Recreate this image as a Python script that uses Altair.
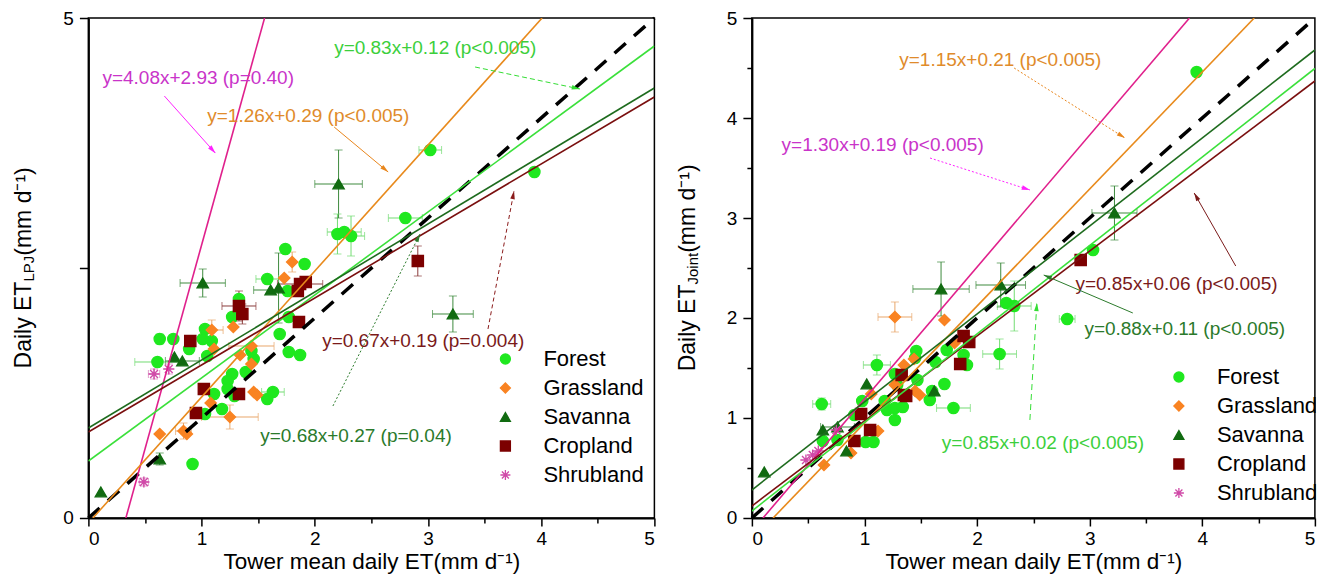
import math
import altair as alt
import pandas as pd

FONT = "Liberation Sans"

CLASSES = ["Forest", "Grassland", "Savanna", "Cropland", "Shrubland"]
MARK_COLORS = ["#1fe81f", "#f98322", "#116b11", "#7c0000", "#d04aa8"]
ERR_COLORS = ["#72dc72", "#e8a66a", "#3d8a3d", "#8a3a3a", "#d67ab8"]
ASTERISK = "M-1,0L1,0M0,-1L0,1M-0.7,-0.7L0.7,0.7M-0.7,0.7L0.7,-0.7"
SHAPES = ["circle", "diamond", "triangle-up", "square", ASTERISK]
ARROWHEAD = "M0,-1L0.55,1L-0.55,1Z"

LINE_COLORS = {"Forest": "#3be03b", "Grassland": "#e88a1c", "Savanna": "#1e6b1e",
               "Cropland": "#7a0f0f", "Shrubland": "#e0208c"}

X_MAJOR = [0, 1, 2, 3, 4, 5]
X_MINOR = [0.5, 1.5, 2.5, 3.5, 4.5]
ONE_TO_ONE = [0, 5]

# ---------------- Left panel: LPJ  (tower ET, model ET, x error, y error)
L_FOREST = [(1.74, 2.69, 0, 0), (1.91, 2.54, 0, 0), (1.58, 2.39, 0.10, 0), (1.76, 2.27, 0, 0),
            (1.33, 2.19, 0, 0), (1.27, 2.01, 0, 0), (0.63, 1.79, 0, 0.05), (0.75, 1.79, 0, 0),
            (1.03, 1.89, 0, 0), (1.01, 1.79, 0, 0), (1.09, 1.77, 0, 0), (0.89, 1.69, 0, 0),
            (0.61, 1.56, 0.20, 0), (1.05, 1.62, 0, 0), (1.44, 1.67, 0, 0), (1.46, 1.59, 0, 0),
            (1.69, 1.84, 0, 0), (1.77, 1.66, 0, 0), (1.87, 1.63, 0, 0), (1.27, 1.44, 0, 0),
            (1.23, 1.37, 0, 0), (1.39, 1.46, 0, 0), (1.23, 1.29, 0, 0), (1.29, 1.22, 0, 0),
            (1.11, 1.24, 0, 0), (1.58, 1.19, 0, 0), (1.63, 1.26, 0.10, 0), (1.18, 1.09, 0, 0),
            (1.03, 1.04, 0, 0), (0.92, 0.54, 0, 0), (1.77, 2.01, 0, 0), (3.02, 3.68, 0.10, 0),
            (2.80, 3.00, 0.15, 0), (2.20, 2.84, 0, 0.20), (2.26, 2.86, 0.15, 0),
            (2.32, 2.82, 0.12, 0.20), (3.94, 3.46, 0, 0)]
L_GRASS = [(1.80, 2.56, 0, 0.10), (1.73, 2.40, 0, 0), (1.09, 1.88, 0.10, 0.10), (1.28, 1.91, 0, 0),
           (1.11, 1.69, 0, 0), (1.44, 1.72, 0.20, 0), (1.34, 1.63, 0, 0), (1.44, 1.54, 0, 0),
           (1.46, 1.26, 0, 0), (1.49, 1.23, 0, 0), (1.08, 1.15, 0, 0), (1.25, 1.01, 0.25, 0.12),
           (0.84, 0.87, 0.07, 0.08), (0.87, 0.84, 0, 0), (0.63, 0.84, 0, 0)]
L_SAV = [(1.01, 2.35, 0.20, 0.14), (1.61, 2.28, 0.15, 0), (1.68, 2.30, 0, 0.35), (0.76, 1.61, 0, 0),
         (0.83, 1.57, 0.15, 0), (0.63, 0.59, 0, 0.06), (0.11, 0.26, 0, 0), (2.21, 3.34, 0.21, 0.34),
         (3.22, 2.04, 0.18, 0.18)]
L_CROP = [(1.87, 2.34, 0.20, 0), (1.92, 2.36, 0, 0), (1.85, 2.27, 0, 0), (1.33, 2.12, 0.15, 0.15),
          (1.36, 2.04, 0, 0.10), (1.86, 1.96, 0, 0), (0.90, 1.77, 0, 0.05), (1.02, 1.29, 0, 0),
          (1.33, 1.24, 0, 0), (0.95, 1.05, 0, 0.05), (2.91, 2.57, 0, 0.15)]
L_SHRUB = [(0.58, 1.44, 0.05, 0.05), (0.71, 1.49, 0, 0.05), (0.49, 0.36, 0.04, 0.04)]

L_FIT_CLASS = ["Shrubland", "Grassland", "Forest", "Cropland", "Savanna"]
L_FIT_SLOPE = [4.08, 1.26, 0.83, 0.67, 0.68]
L_FIT_INTERCEPT = [-1.35, -0.05, 0.57, 0.86, 0.90]
L_FIT_LABEL = ["y=4.08x+2.93 (p=0.40)", "y=1.26x+0.29 (p<0.005)", "y=0.83x+0.12 (p<0.005)",
               "y=0.67x+0.19 (p=0.004)", "y=0.68x+0.27 (p=0.04)"]
L_TEXT_COLOR = ["#c934c9", "#e08b2b", "#3ccf3c", "#7a1a1a", "#2b7a2b"]
L_LABEL_X = [0.124, 1.05, 2.171, 2.065, 1.518]
L_LABEL_Y = [4.40, 4.02, 4.70, 1.77, 0.82]
L_ARROW_FROM = [(0.671, 4.22), (2.171, 3.91), (3.416, 4.51), (3.53, 1.89), (2.16, 1.12)]
L_ARROW_TO = [(1.121, 3.65), (2.648, 3.46), (4.342, 4.29), (3.76, 3.27), (2.93, 2.84)]
L_ARROW_COLOR = ["#ff22ff", "#e8861c", "#33dd33", "#8a1a1a", "#2b7a2b"]
L_ARROW_DASH = [[], [], [5, 3], [4, 3], [2, 2]]

# ---------------- Right panel: Joint
R_FOREST = [(0.62, 1.14, 0.08, 0.06), (1.11, 1.53, 0.12, 0.10), (1.46, 1.67, 0, 0), (1.45, 1.60, 0, 0),
            (1.63, 1.56, 0, 0), (1.73, 1.68, 0, 0), (1.88, 1.63, 0, 0), (1.91, 1.53, 0, 0),
            (1.71, 1.34, 0, 0), (1.79, 1.10, 0.15, 0), (1.58, 1.18, 0, 0), (1.60, 1.27, 0, 0),
            (1.47, 1.38, 0, 0), (1.27, 1.44, 0, 0), (1.29, 1.33, 0, 0), (1.20, 1.08, 0, 0),
            (1.27, 1.10, 0, 0), (1.34, 1.11, 0, 0), (1.27, 0.98, 0, 0), (1.18, 1.17, 0, 0),
            (1.01, 0.76, 0, 0), (1.08, 0.76, 0, 0), (0.98, 1.17, 0, 0), (0.91, 1.03, 0, 0),
            (0.76, 0.78, 0, 0), (0.63, 0.77, 0, 0), (3.95, 4.46, 0, 0), (3.03, 2.68, 0, 0),
            (2.26, 2.15, 0, 0), (2.33, 2.12, 0.15, 0.25), (2.80, 1.99, 0.07, 0), (2.20, 1.64, 0.15, 0.15)]
R_GRASS = [(1.27, 2.01, 0.15, 0.15), (1.71, 1.98, 0, 0), (1.44, 1.59, 0, 0), (1.35, 1.53, 0, 0),
           (1.27, 1.33, 0, 0), (1.45, 1.27, 0, 0), (1.49, 1.23, 0, 0), (1.12, 0.87, 0, 0),
           (0.88, 0.65, 0, 0), (0.64, 0.53, 0, 0), (1.80, 1.75, 0, 0), (1.06, 1.24, 0, 0)]
R_SAV = [(1.68, 2.29, 0.25, 0.27), (1.02, 1.34, 0, 0), (1.62, 1.27, 0, 0), (0.63, 0.88, 0, 0),
         (0.76, 0.91, 0.15, 0), (0.84, 0.67, 0, 0), (0.11, 0.46, 0, 0), (3.22, 3.05, 0.20, 0.27),
         (2.21, 2.33, 0.22, 0.22)]
R_CROP = [(1.88, 1.82, 0, 0), (1.93, 1.76, 0, 0), (1.85, 1.54, 0, 0), (1.33, 1.43, 0, 0),
          (1.35, 1.23, 0, 0), (1.37, 1.22, 0, 0), (0.97, 1.04, 0, 0), (1.05, 0.88, 0, 0),
          (0.91, 0.77, 0, 0), (2.92, 2.58, 0, 0)]
R_SHRUB = [(0.48, 0.58, 0, 0), (0.54, 0.63, 0, 0), (0.59, 0.67, 0, 0), (0.75, 0.88, 0, 0)]

R_FIT_CLASS = ["Grassland", "Shrubland", "Cropland", "Savanna", "Forest"]
R_FIT_SLOPE = [1.17, 1.32, 0.85, 0.88, 0.885]
R_FIT_INTERCEPT = [-0.22, -0.13, 0.12, 0.28, 0.07]
R_FIT_LABEL = ["y=1.15x+0.21 (p<0.005)", "y=1.30x+0.19 (p<0.005)", "y=0.85x+0.06 (p<0.005)",
               "y=0.88x+0.11 (p<0.005)", "y=0.85x+0.02 (p<0.005)"]
R_TEXT_COLOR = ["#e08b2b", "#c934c9", "#7a1a1a", "#2b7a2b", "#3ccf3c"]
R_LABEL_X = [1.309, 0.264, 2.873, 2.953, 1.687]
R_LABEL_Y = [4.58, 3.73, 2.34, 1.89, 0.75]
R_ARROW_FROM = [(2.329, 4.50), (1.582, 3.60), (4.297, 2.52), (3.383, 2.05), (2.469, 0.98)]
R_ARROW_TO = [(3.313, 3.80), (2.469, 3.28), (3.928, 3.25), (2.592, 2.43), (2.531, 2.15)]
R_ARROW_COLOR = ["#e8861c", "#ff22ff", "#7a1a1a", "#2b7a2b", "#33dd33"]
R_ARROW_DASH = [[2, 2], [2, 2], [], [], [6, 4]]

H = 500
W_L = 566
W_R = 563

AW = {'D': 722, 'a': 556, 'i': 222, 'l': 222, 'y': 500, ' ': 278, 'E': 667, 'T': 611,
      'L': 556, 'P': 667, 'J': 500, 'o': 556, 'n': 556, 't': 278, '(': 333, 'm': 833,
      'd': 556, ')': 333, '\u207b': 333, '\u00b9': 333}


def text_w(s, size):
    return sum(AW.get(c, 556) for c in s) * size / 1000.0


def build_panel(groups, fit_cls, fit_m, fit_b, fit_lab, lab_x, lab_y, txt_col,
                a_from, a_to, a_col, a_dash, width, y_major, y_hide, y_minor,
                sub_text, legend_xy):
    xs = alt.Scale(domain=[0, 5], nice=False, zero=False)
    ys = alt.Scale(domain=[0, 5], nice=False, zero=False)
    sx = width / 5.0
    sy = H / 5.0

    rows = []
    for cls, ecol, pts in zip(CLASSES, ERR_COLORS, groups):
        for (x, y, dx, dy) in pts:
            rows.append(dict(cls=cls, x=x, y=y, dx=dx, dy=dy, ecol=ecol))
    pts_df = pd.DataFrame(rows)

    hx = pts_df[pts_df.dx > 0].copy()
    hx["lo"] = hx.x - hx.dx
    hx["hi"] = hx.x + hx.dx
    vy = pts_df[pts_df.dy > 0].copy()
    vy["lo"] = vy.y - vy.dy
    vy["hi"] = vy.y + vy.dy
    hcaps = pd.concat([hx.assign(cx=hx.lo), hx.assign(cx=hx.hi)])
    vcaps = pd.concat([vy.assign(cy=vy.lo), vy.assign(cy=vy.hi)])

    layers = []
    layers.append(alt.Chart(hx).mark_rule(strokeWidth=1).encode(
        x=alt.X("lo:Q", scale=xs, axis=None), x2="hi:Q",
        y=alt.Y("y:Q", scale=ys, axis=None), color=alt.Color("ecol:N", scale=None)))
    layers.append(alt.Chart(vy).mark_rule(strokeWidth=1).encode(
        x=alt.X("x:Q", scale=xs, axis=None),
        y=alt.Y("lo:Q", scale=ys, axis=None), y2="hi:Q", color=alt.Color("ecol:N", scale=None)))
    layers.append(alt.Chart(hcaps).mark_tick(orient="vertical", size=8, thickness=1).encode(
        x=alt.X("cx:Q", scale=xs, axis=None), y=alt.Y("y:Q", scale=ys, axis=None),
        color=alt.Color("ecol:N", scale=None)))
    layers.append(alt.Chart(vcaps).mark_tick(orient="horizontal", size=8, thickness=1).encode(
        x=alt.X("x:Q", scale=xs, axis=None), y=alt.Y("cy:Q", scale=ys, axis=None),
        color=alt.Color("ecol:N", scale=None)))

    cscale = alt.Scale(domain=CLASSES, range=MARK_COLORS)
    sscale = alt.Scale(domain=CLASSES, range=SHAPES)
    leg = alt.Legend(orient="none", legendX=legend_xy[0], legendY=legend_xy[1], title=None,
                     labelFontSize=22, labelFont=FONT, labelColor="black", symbolSize=100,
                     rowPadding=7, labelOffset=27, padding=0, symbolStrokeWidth=1.3,
                     labelLimit=300)
    y_label_expr = "datum.label" if y_hide is None else \
        "datum.value == %s ? '' : datum.label" % y_hide
    layers.append(alt.Chart(pts_df).mark_point(filled=True, opacity=1, size=125, strokeWidth=1.4).encode(
        x=alt.X("x:Q", scale=xs, axis=alt.Axis(
            values=X_MAJOR, format="~g", orient="bottom", grid=False, tickSize=8, tickWidth=1.5,
            tickColor="black", domainColor="black", domainWidth=2, labelFontSize=19,
            labelFont=FONT, labelColor="black", labelPadding=4,
            title="Tower mean daily ET(mm d\u207b\u00b9)", titleFontSize=22.5, titleFont=FONT,
            titleFontWeight="normal", titleColor="black", titlePadding=2)),
        y=alt.Y("y:Q", scale=ys, axis=alt.Axis(
            values=y_major, format="~g", orient="left", grid=False, tickSize=9, tickWidth=1.5,
            tickColor="black", domainColor="black", domainWidth=2, labelFontSize=19,
            labelFont=FONT, labelColor="black", labelPadding=6, labelExpr=y_label_expr,
            title=None)),
        fill=alt.Fill("cls:N", scale=cscale, legend=leg),
        stroke=alt.Stroke("cls:N", scale=cscale, legend=leg),
        shape=alt.Shape("cls:N", scale=sscale, legend=leg)))

    # minor ticks
    y_minor_axis = None
    if y_minor:
        y_minor_axis = alt.Axis(values=y_minor, labels=False, tickSize=5, tickWidth=1.5,
                                tickColor="black", domain=False, grid=False, title=None,
                                orient="left")
    layers.append(alt.Chart(pts_df).mark_point(opacity=0).encode(
        x=alt.X("x:Q", scale=xs, axis=alt.Axis(values=X_MINOR, labels=False, tickSize=5,
                                               tickWidth=1.5, tickColor="black", domain=False,
                                               grid=False, title=None, orient="bottom")),
        y=alt.Y("y:Q", scale=ys, axis=y_minor_axis)))

    # 1:1 line
    one_df = pd.DataFrame({"x": ONE_TO_ONE, "y": ONE_TO_ONE})
    layers.append(alt.Chart(one_df).mark_line(color="black", strokeWidth=3.5,
                                              strokeDash=[15, 11]).encode(
        x=alt.X("x:Q", scale=xs, axis=None), y=alt.Y("y:Q", scale=ys, axis=None)))

    # fitted lines
    frows = []
    for c, m, b in zip(fit_cls, fit_m, fit_b):
        x_lo = max(0.0, (0.0 - b) / m)
        x_hi = min(5.0, (5.0 - b) / m)
        for xv in (x_lo, x_hi):
            frows.append(dict(cls=c, col=LINE_COLORS[c], x=xv, y=m * xv + b))
    fit_df = pd.DataFrame(frows)
    layers.append(alt.Chart(fit_df).mark_line(strokeWidth=1.6, clip=True).encode(
        x=alt.X("x:Q", scale=xs, axis=None), y=alt.Y("y:Q", scale=ys, axis=None),
        detail="cls:N", color=alt.Color("col:N", scale=None)))

    # equation labels
    lab_df = pd.DataFrame({"x": lab_x, "y": lab_y, "t": fit_lab, "col": txt_col})
    layers.append(alt.Chart(lab_df).mark_text(align="left", baseline="middle", fontSize=19,
                                              font=FONT).encode(
        x=alt.X("x:Q", scale=xs, axis=None), y=alt.Y("y:Q", scale=ys, axis=None),
        text="t:N", color=alt.Color("col:N", scale=None)))

    # arrows
    for (x1, y1), (x2, y2), col, dash in zip(a_from, a_to, a_col, a_dash):
        dxp = (x2 - x1) * sx
        dyp = -(y2 - y1) * sy
        ang = math.degrees(math.atan2(dxp, -dyp)) % 360
        L = math.hypot(dxp, dyp)
        back = 4.0
        hx_ = x2 - (dxp / L) * back / sx
        hy_ = y2 + (dyp / L) * back / sy
        adf = pd.DataFrame({"x": [x1], "y": [y1], "x2": [x2], "y2": [y2], "hx": [hx_], "hy": [hy_]})
        rule_kw = dict(color=col, strokeWidth=1)
        if dash:
            rule_kw["strokeDash"] = dash
        layers.append(alt.Chart(adf).mark_rule(**rule_kw).encode(
            x=alt.X("x:Q", scale=xs, axis=None), y=alt.Y("y:Q", scale=ys, axis=None),
            x2="x2:Q", y2="y2:Q"))
        layers.append(alt.Chart(adf).mark_point(shape=ARROWHEAD, filled=True, size=70,
                                                color=col, opacity=1, angle=round(ang, 2)).encode(
            x=alt.X("hx:Q", scale=xs, axis=None), y=alt.Y("hy:Q", scale=ys, axis=None)))

    # y title with subscript, drawn as text pieces (rotated)
    pieces = [("Daily ET", 23, 0), (sub_text, 15, 3), ("(mm d\u207b\u00b9)", 23, 0)]
    total = sum(text_w(s, f) for s, f, _ in pieces)
    ypos = H / 2 + total / 2
    base_x = -57
    for s, f, off in pieces:
        tdf = pd.DataFrame({"t": [s]})
        layers.append(alt.Chart(tdf).mark_text(angle=270, align="left", baseline="alphabetic",
                                               fontSize=f, font=FONT, color="black").encode(
            x=alt.value(base_x + off), y=alt.value(ypos), text="t:N"))
        ypos -= text_w(s, f)

    return alt.layer(*layers).resolve_axis(x="independent", y="independent").properties(
        width=width, height=H)


left = build_panel([L_FOREST, L_GRASS, L_SAV, L_CROP, L_SHRUB],
                   L_FIT_CLASS, L_FIT_SLOPE, L_FIT_INTERCEPT, L_FIT_LABEL, L_LABEL_X, L_LABEL_Y,
                   L_TEXT_COLOR, L_ARROW_FROM, L_ARROW_TO, L_ARROW_COLOR, L_ARROW_DASH,
                   W_L, [0, 2.5, 5], 2.5, None, "LPJ", (406, 330))
right = build_panel([R_FOREST, R_GRASS, R_SAV, R_CROP, R_SHRUB],
                    R_FIT_CLASS, R_FIT_SLOPE, R_FIT_INTERCEPT, R_FIT_LABEL, R_LABEL_X, R_LABEL_Y,
                    R_TEXT_COLOR, R_ARROW_FROM, R_ARROW_TO, R_ARROW_COLOR, R_ARROW_DASH,
                    W_R, X_MAJOR, None, X_MINOR, "Joint", (416, 348))

chart = alt.hconcat(left, right, spacing=13.5).resolve_scale(
    fill="independent", stroke="independent", shape="independent"
).properties(
    padding={"left": 4.4, "top": 0, "right": 0, "bottom": 0}
).configure(font=FONT).configure_view(stroke="black", strokeWidth=1.5)

chart.save("out.html", embed_options={"renderer": "svg", "actions": False})
